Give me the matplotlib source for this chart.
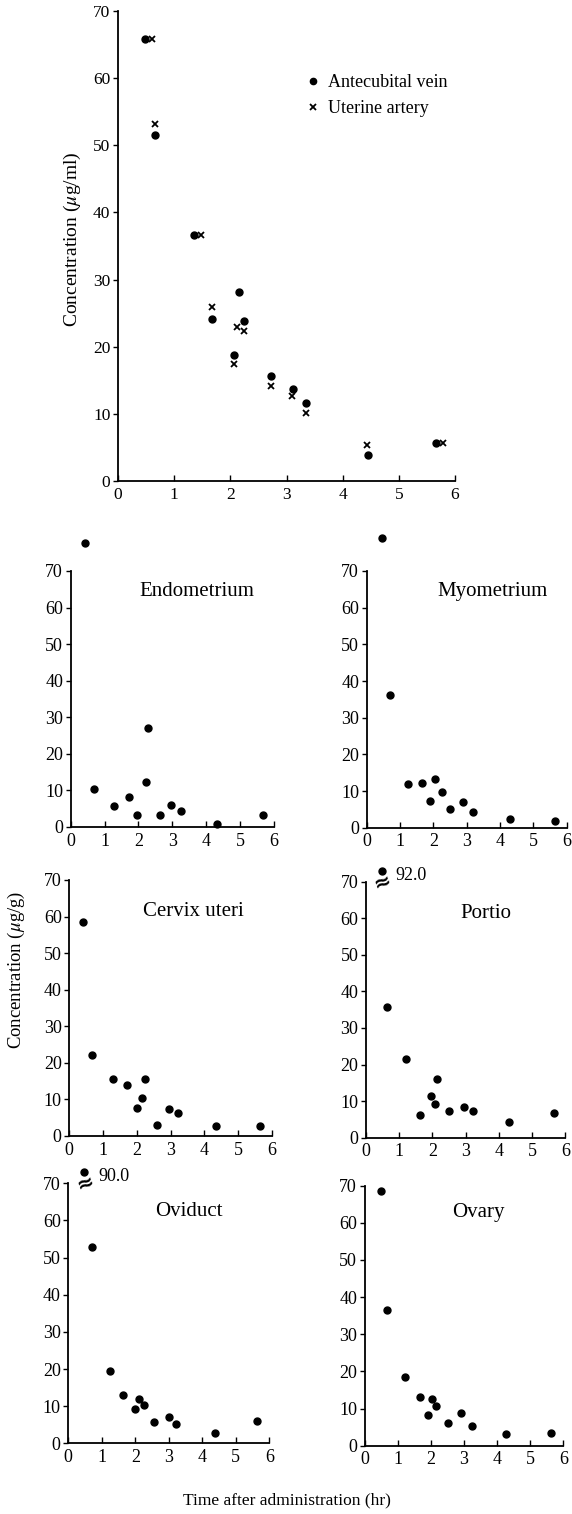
import matplotlib
matplotlib.use("Agg")
import matplotlib.pyplot as plt

plt.rcParams["font.family"] = ["Liberation Serif", "DejaVu Serif"]
plt.rcParams["mathtext.fontset"] = "stix"

# ---- serum (top panel) ----
vein_t = [0.48, 0.66, 1.35, 1.68, 2.06, 2.16, 2.25, 2.73, 3.11, 3.35, 4.45, 5.66]
vein_c = [65.8, 51.6, 36.7, 24.1, 18.8, 28.1, 23.8, 15.7, 13.7, 11.6, 3.9, 5.6]
artery_t = [0.61, 0.66, 1.47, 1.67, 2.12, 2.25, 2.07, 2.73, 3.10, 3.34, 4.44, 5.79]
artery_c = [65.8, 53.2, 36.7, 25.9, 23.0, 22.4, 17.4, 14.1, 12.6, 10.2, 5.3, 5.6]

# ---- tissues ----
endo_t = [0.42, 0.68, 1.28, 1.71, 1.97, 2.21, 2.29, 2.63, 2.97, 3.26, 4.32, 5.68]
endo_c = [77.6, 10.3, 5.8, 8.1, 3.2, 12.4, 27.2, 3.2, 5.9, 4.5, 0.8, 3.2]

myo_t = [0.45, 0.70, 1.25, 1.65, 1.90, 2.06, 2.25, 2.51, 2.90, 3.20, 4.31, 5.65]
myo_c = [79.1, 36.1, 11.8, 12.3, 7.3, 13.3, 9.7, 5.1, 6.9, 4.3, 2.3, 1.9]

cervix_t = [0.40, 0.66, 1.29, 1.70, 2.23, 2.15, 1.99, 2.60, 2.95, 3.22, 4.35, 5.64]
cervix_c = [58.6, 22.2, 15.6, 14.0, 15.7, 10.3, 7.7, 3.0, 7.4, 6.4, 2.6, 2.7]

portio_t = [0.47, 0.64, 1.21, 2.14, 1.97, 2.07, 1.64, 2.51, 2.94, 3.21, 4.30, 5.65]
portio_c = [92.0, 35.7, 21.6, 16.0, 11.3, 9.2, 6.3, 7.4, 8.5, 7.3, 4.3, 6.8]

ovi_t = [0.48, 0.70, 1.24, 1.63, 1.98, 2.11, 2.27, 2.57, 3.00, 3.22, 4.37, 5.64]
ovi_c = [90.0, 52.8, 19.4, 12.9, 9.2, 11.8, 10.3, 5.7, 7.1, 5.3, 2.8, 6.0]

ovary_t = [0.49, 0.66, 1.22, 1.67, 1.91, 2.04, 2.15, 2.53, 2.91, 3.23, 4.26, 5.62]
ovary_c = [68.7, 36.5, 18.6, 13.0, 8.3, 12.6, 10.8, 6.2, 8.8, 5.3, 3.2, 3.5]

panels = [
    ("Endometrium", endo_t, endo_c, False, (70.7, 571, 274, 827), (3.73, 64.3)),
    ("Myometrium", myo_t, myo_c, False, (366.7, 571, 566.7, 827.7), (3.77, 64.4)),
    ("Cervix uteri", cervix_t, cervix_c, False, (69.3, 880, 272, 1136), (3.67, 61.5)),
    ("Portio", portio_t, portio_c, True, (366, 881.7, 565.3, 1137.7), (3.61, 61.2)),
    ("Oviduct", ovi_t, ovi_c, True, (68.3, 1183.3, 269.3, 1443.3), (3.60, 62.5)),
    ("Ovary", ovary_t, ovary_c, False, (364.7, 1185.7, 563.3, 1445.7), (3.43, 62.8)),
]

W, H = 572, 1514
fig = plt.figure(figsize=(W / 100, H / 100), dpi=100)


def px_axes(l, t, r, b):
    return fig.add_axes([l / W, 1 - b / H, (r - l) / W, (b - t) / H])


def style(ax, fs):
    ax.set_xlim(0, 6)
    ax.set_ylim(0, 70)
    ax.set_xticks(range(7))
    ax.set_yticks(range(0, 71, 10))
    for s in ("top", "right"):
        ax.spines[s].set_visible(False)
    for s in ("left", "bottom"):
        ax.spines[s].set_linewidth(1.3)
    ax.tick_params(axis="x", direction="in", length=4, width=1, labelsize=fs, pad=4)
    ax.tick_params(axis="y", direction="out", length=3.5, width=1, labelsize=fs, pad=2)
    ax.patch.set_visible(False)


# top panel
ax = px_axes(118, 11, 455, 481)
style(ax, 12.5)
ax.plot(vein_t, vein_c, "o", color="black", ms=5, ls="none",
        label="Antecubital vein", clip_on=False)
ax.plot(artery_t, artery_c, "x", color="black", ms=4.5, mew=1.3, ls="none",
        label="Uterine artery", clip_on=False)
ax.legend(frameon=False, loc="upper left", bbox_to_anchor=(0.565, 0.866),
          fontsize=13, handlelength=0.5, handletextpad=0.6, borderpad=0,
          borderaxespad=0, labelspacing=0.5, markerscale=0.9)
fig.text(72 / W, 1 - 239 / H, r"Concentration ($\mu$g/ml)", rotation=90,
         ha="center", va="center", fontsize=14)

break_y = 73
for name, t, c, broken, box, lab in panels:
    ax = px_axes(*box)
    style(ax, 13)
    yv = [break_y if (broken and v > 70) else v for v in c]
    ax.plot(t, yv, "o", color="black", ms=5, ls="none", clip_on=False)
    ax.text(lab[0], lab[1], name, ha="center", va="center", fontsize=15)
    if broken:
        for ti, v in zip(t, c):
            if v > 70:
                ax.text(ti + 0.05, 69.8, "≈", rotation=20, ha="center", va="center",
                        fontsize=15, fontweight="bold", clip_on=False,
                        family="DejaVu Sans")
                ax.annotate(f"{v:.1f}", (ti, break_y - 1.2), xytext=(10, 0),
                            textcoords="offset points", ha="left", va="center",
                            fontsize=13, annotation_clip=False)

fig.text(16.7 / W, 1 - 970 / H, r"Concentration ($\mu$g/g)", rotation=90,
         ha="center", va="center", fontsize=13.5)
fig.text(287 / W, 1 - 1500 / H, "Time after administration (hr)",
         ha="center", va="center", fontsize=12.5)

fig.savefig("out.png", dpi=100)
